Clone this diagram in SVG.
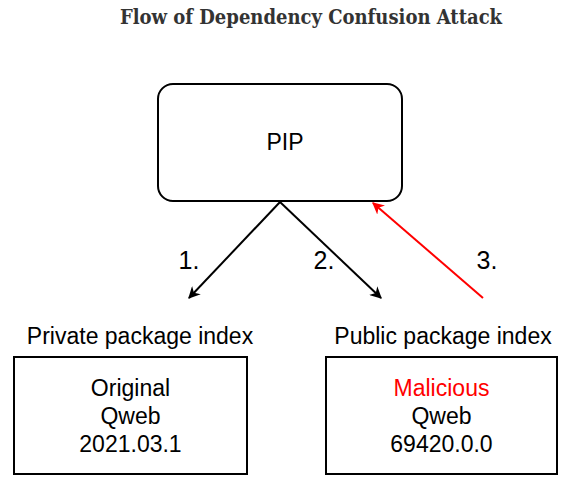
<svg xmlns="http://www.w3.org/2000/svg" width="578" height="492" viewBox="0 0 578 492">
<style>
.t{font-family:"Liberation Sans",Arial,sans-serif;fill:#000;text-anchor:middle}
.box{fill:#fff;stroke:#000;stroke-width:2}
.ln{fill:none;stroke-width:2}
</style>
<defs>
<marker id="ab" viewBox="0 0 10 10" refX="9" refY="5" markerWidth="12" markerHeight="12" markerUnits="userSpaceOnUse" orient="auto"><path d="M0,0 L10,5 L0,10 L3,5 Z" fill="#000"/></marker>
<marker id="ar" viewBox="0 0 10 10" refX="9" refY="5" markerWidth="12" markerHeight="12" markerUnits="userSpaceOnUse" orient="auto"><path d="M0,0 L10,5 L0,10 L3,5 Z" fill="#ff0000"/></marker>
</defs>
<rect width="578" height="492" fill="#fff"/>
<text x="311" y="24" style="font-family:'DejaVu Serif Condensed','DejaVu Serif',serif;font-weight:bold;font-size:20px;fill:#333;text-anchor:middle">Flow of Dependency Confusion Attack</text>
<g id="pip">
<rect class="box" x="158" y="84" width="244" height="117" rx="15"/>
<text class="t" x="285" y="150" font-size="23">PIP</text>
</g>
<g id="private">
<text class="t" x="140" y="344" font-size="23">Private package index</text>
<rect class="box" x="14" y="357" width="233" height="117"/>
<text class="t" x="130.5" y="396" font-size="23">Original</text>
<text class="t" x="130.5" y="424" font-size="23">Qweb</text>
<text class="t" x="130.5" y="452" font-size="23">2021.03.1</text>
</g>
<g id="public">
<text class="t" x="443" y="344" font-size="23">Public package index</text>
<rect class="box" x="326" y="357" width="231" height="117"/>
<text class="t" x="441.5" y="396" font-size="23" style="fill:#ff0000">Malicious</text>
<text class="t" x="441.5" y="424" font-size="23">Qweb</text>
<text class="t" x="441.5" y="452" font-size="23">69420.0.0</text>
</g>
<g id="connectors">
<line class="ln" x1="280" y1="202" x2="189" y2="298" stroke="#000" marker-end="url(#ab)"/>
<line class="ln" x1="280" y1="202" x2="381" y2="298" stroke="#000" marker-end="url(#ab)"/>
<line class="ln" x1="483" y1="298" x2="373" y2="203" stroke="#ff0000" marker-end="url(#ar)"/>
<text class="t" x="189" y="269" font-size="25">1.</text>
<text class="t" x="324" y="269" font-size="25">2.</text>
<text class="t" x="487" y="269" font-size="25">3.</text>
</g>
</svg>
